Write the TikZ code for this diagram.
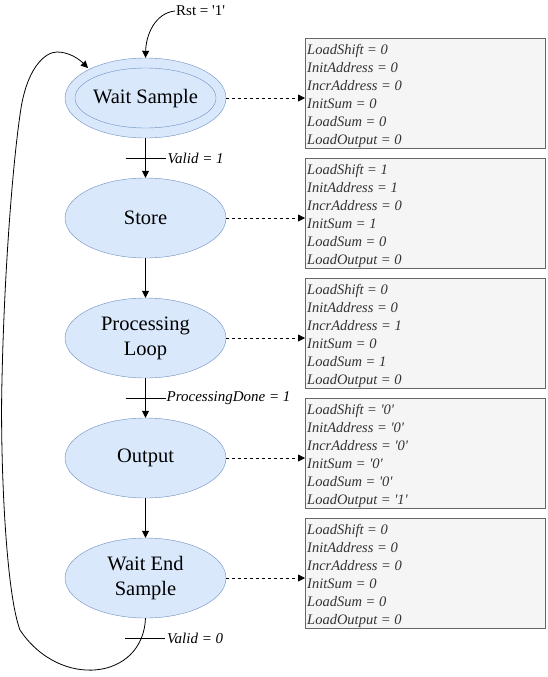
\documentclass[tikz,border=0pt]{standalone}
\usepackage{fontspec}
\setmainfont{Liberation Serif}
\usetikzlibrary{arrows.meta,shapes.geometric}
\definecolor{stfill}{HTML}{DAE8FC}
\definecolor{stdraw}{HTML}{6C8EBF}
\definecolor{bxfill}{HTML}{F5F5F5}
\definecolor{bxdraw}{HTML}{666666}
\definecolor{bxtext}{HTML}{333333}
\newcommand\sq{\textquotesingle}
\tikzset{
  state/.style={ellipse, draw=stdraw, fill=stfill, minimum width=161pt, minimum height=80pt, inner sep=0pt,
    font=\fontsize{20.5}{25}\selectfont, align=center},
  outbox/.style={draw=bxdraw, fill=bxfill, minimum width=240pt, minimum height=110pt, inner sep=0pt},
  outtext/.style={text=bxtext, font=\fontsize{14.5}{18}\selectfont\itshape, align=left, anchor=north west, inner sep=0pt},
  trans/.style={-{Triangle[length=7pt,width=7pt]}, line width=0.8pt},
  dasharr/.style={-{Triangle[length=7pt,width=7pt]}, dashed, dash pattern=on 3pt off 3pt, line width=0.8pt},
  lbl/.style={font=\fontsize{15}{16}\selectfont\itshape, anchor=west, inner sep=1pt},
}
\begin{document}
\begin{tikzpicture}[x=1pt,y=-1pt]
\useasboundingbox (0,0) rectangle (547,677);
% states
\node[state] (ws) at (145.5,98) {};
\draw[stdraw] (ws.center) ellipse [x radius=70.5pt, y radius=30pt];
\node[font=\fontsize{20.5}{25}\selectfont] (wsl) at (145.5,99) {Wait Sample};
\node[state] (st) at (145.5,218) {Store};
\node[state] (pl) at (145.5,338) {Processing\\Loop};
\node[state] (op) at (145.5,458) {Output};
\node[state] (we) at (145.5,578) {Wait End\\Sample};
% boxes
\foreach \n/\y/\a/\b/\c/\d/\e/\f in {
  b1/38/0/0/0/0/0/0,
  b2/158/1/1/0/1/0/0,
  b3/278/0/0/1/0/1/0,
  b4/398/\sq0\sq/\sq0\sq/\sq0\sq/\sq0\sq/\sq0\sq/\sq1\sq,
  b5/518/0/0/0/0/0/0}{
  \node[outbox, anchor=north west] (\n) at (305,\y) {};
  \node[outtext] (\n t) at ([xshift=2pt,yshift=-6pt]\n.north west) {LoadShift = \a\\InitAddress = \b\\IncrAddress = \c\\InitSum = \d\\LoadSum = \e\\LoadOutput = \f};
}
% dashed arrows
\draw[dasharr] (ws.east) -- (b1.west|-ws.east);
\draw[dasharr] (st.east) -- (b2.west|-st.east);
\draw[dasharr] (pl.east) -- (b3.west|-pl.east);
\draw[dasharr] (op.east) -- (b4.west|-op.east);
\draw[dasharr] (we.east) -- (b5.west|-we.east);
% transitions
\draw[trans] (ws.south) -- (st.north);
\draw[trans] (st.south) -- (pl.north);
\draw[trans] (pl.south) -- (op.north);
\draw[trans] (op.south) -- (we.north);
% guard ticks
\coordinate (t1) at (145.5,158);
\draw[line width=0.8pt] ([xshift=-20pt]t1) -- ([xshift=20pt]t1);
\node[lbl] (l1) at ([xshift=21pt]t1) {Valid = 1};
\coordinate (t2) at (145.5,398);
\draw[line width=0.8pt] ([xshift=-20pt]t2) -- ([xshift=20pt]t2);
\node[lbl] (l2) at ([xshift=20pt]t2) {ProcessingDone = 1};
\coordinate (t3) at (145,638);
\draw[line width=0.8pt] ([xshift=-20pt]t3) -- ([xshift=20pt]t3);
\node[lbl] (l3) at ([xshift=21pt]t3) {Valid = 0};
% reset
\node[font=\fontsize{15}{16}\selectfont, anchor=west, inner sep=1pt] (rst) at (175,11) {Rst = \sq1\sq};
\draw[trans] (rst.west) .. controls (155,13) and (146,35) .. (ws.north);
% loop back
\coordinate (wsin) at (88,68);
\draw[trans] (we.south) .. controls (143,680) and (60,690) .. (20,630)
  .. controls (5,590) and (0,450) .. (2,380)
  .. controls (4,280) and (12,170) .. (20,115)
  .. controls (26,68) and (45,52) .. (57,52)
  .. controls (70,52) and (80,60) .. (wsin);
\end{tikzpicture}
\end{document}
